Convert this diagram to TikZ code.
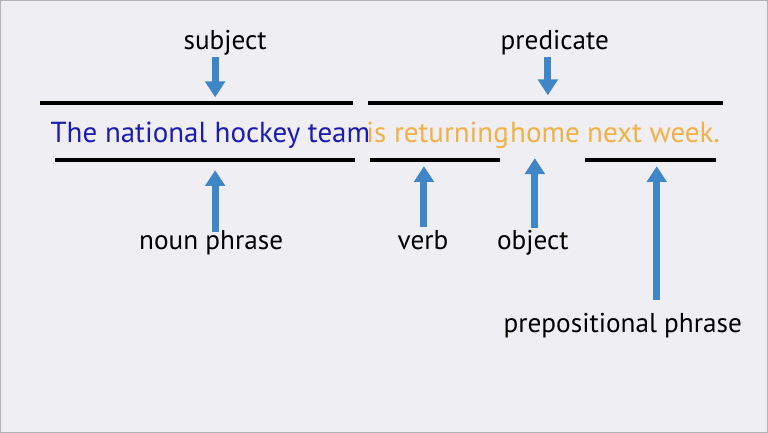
\documentclass[tikz,border=0pt]{standalone}
\usepackage{fontspec}
\setmainfont{PT Sans}
\usetikzlibrary{arrows.meta,positioning}
\definecolor{bg}{HTML}{EEEEF3}
\definecolor{nounblue}{HTML}{1C1CB4}
\definecolor{predorange}{HTML}{F2B146}
\definecolor{arrowblue}{HTML}{3E86C6}
\tikzset{
    word/.style={inner sep=0pt, anchor=base west, font=\fontsize{16.5}{19}\selectfont},
    label/.style={inner sep=1pt, font=\fontsize{15.5}{18}\selectfont},
    bar/.style={line width=2.2pt, black},
    pointer/.style={line width=4pt, arrowblue, -{Triangle[width=11pt,length=9pt]}},
}
\begin{document}
\begin{tikzpicture}[x=0.02cm, y=-0.02cm]
    %Hintergrund
    \filldraw[bg, draw=gray!60] (0,0) rectangle (768,432);
    %Satz
    \node[word, text=nounblue]   (np)   at (50,142) {The national hockey team};
    \node[word, text=predorange] (vb)   at (366,142) {is returning};
    \node[word, text=predorange] (obj)  at (510,142) {home};
    \node[word, text=predorange] (pp)   at (587,142) {next week.};
    %Linien
    \draw[bar](40,103)--(353,103);
    \draw[bar](368,103)--(723,103);
    \draw[bar](55,160)--(355,160);
    \draw[bar](370,160)--(500,160);
    \draw[bar](585,160)--(716,160);
    %Beschriftungen
    \node[label] (subj)  at (225,42)  {subject};
    \node[label] (pred)  at (555,42)  {predicate};
    \node[label] (nounp) at (211,243) {noun phrase};
    \node[label] (verb)  at (423,240) {verb};
    \node[label] (objl)  at (533,243) {object};
    \node[label] (prepp) at (623,326) {prepositional phrase};
    \coordinate (subjtip)  at (215,97);
    \coordinate (predtip)  at (548,95);
    \coordinate (nountip)  at (215,170);
    \coordinate (verbtip)  at (424,166);
    \coordinate (objtip)   at (535,158);
    \coordinate (preptip)  at (657,166);
    %Pfeile
    \draw[pointer](subj.south -| subjtip)--(subjtip);
    \draw[pointer](pred.south -| predtip)--(predtip);
    \draw[pointer](215,232)--(nountip);
    \draw[pointer](424,227)--(verbtip);
    \draw[pointer](535,228)--(objtip);
    \draw[pointer](657,300)--(preptip);
\end{tikzpicture}
\end{document}
